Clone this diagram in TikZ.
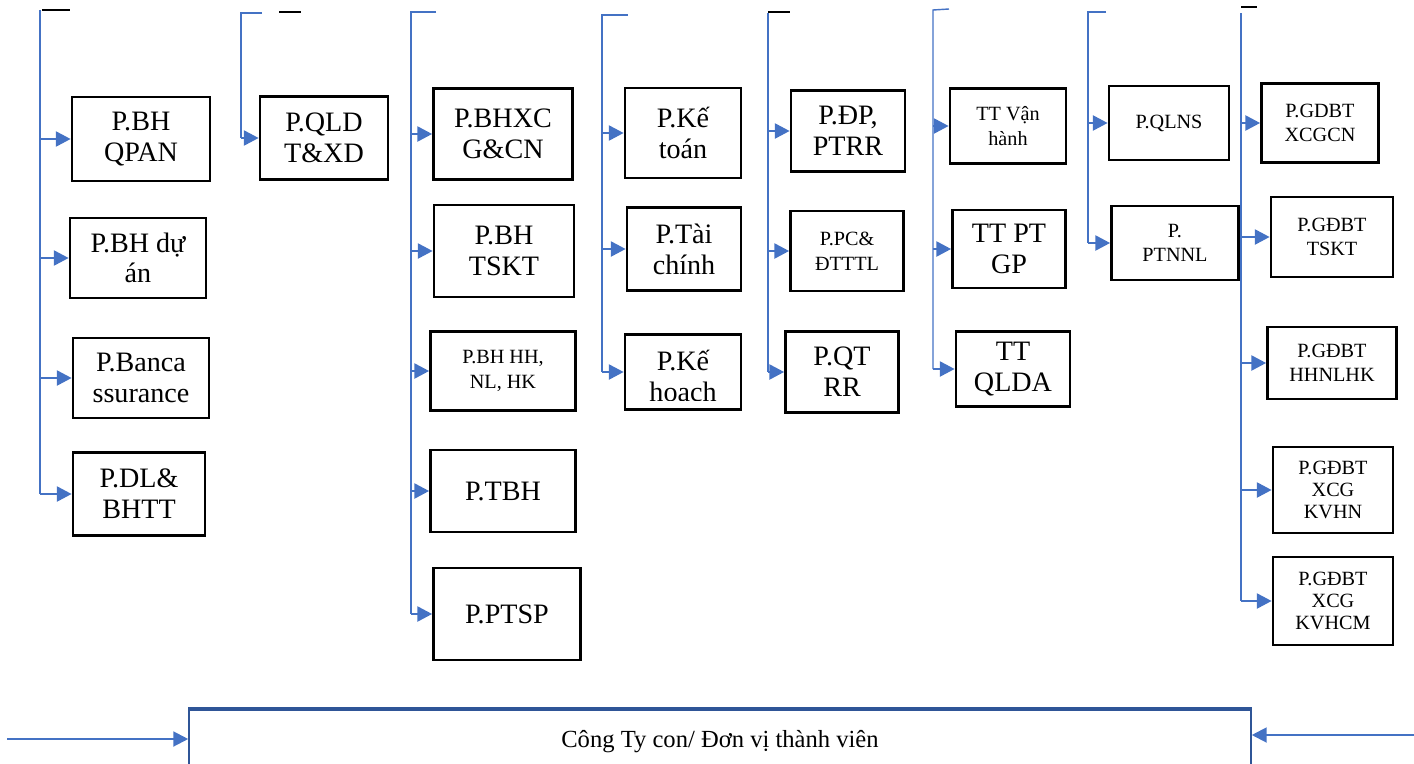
\documentclass[tikz,border=0pt]{standalone}
\usepackage{fontspec}
\setmainfont{Liberation Serif}
\usetikzlibrary{arrows.meta}
\definecolor{lineblue}{HTML}{4472C4}
\definecolor{frameblue}{HTML}{2F5597}

\begin{document}
\begin{tikzpicture}[x=0.02cm,y=-0.02cm,>={Triangle[length=8.5pt,width=8.5pt]},
	box/.style={draw,line width=1.5pt,align=center,inner sep=1pt,%
		font=\fontsize{16}{17.5}\selectfont},
	sbox/.style={box,font=\fontsize{11.5}{14}\selectfont},
	tbox/.style={box,font=\fontsize{11.5}{12.5}\selectfont},
	trunk/.style={draw=lineblue,line width=0.8pt},
	btick/.style={draw=black,line width=0.9pt},
	arr/.style={->,lineblue,line width=1.6pt}]
	\useasboundingbox (0,0) rectangle (1414,764);
	% column 1
	\node[box,minimum width=2.76cm,minimum height=1.68cm] (qpan) at (141,139) {P.BH\\QPAN};
	\node[box,minimum width=2.72cm,minimum height=1.60cm] (duan) at (138,258) {P.BH dự\\án};
	\node[box,minimum width=2.72cm,minimum height=1.60cm] (banca) at (141,378) {P.Banca\\ssurance};
	\node[box,minimum width=2.64cm,minimum height=1.66cm] (dlbhtt) at (139,494) {P.DL\&\\BHTT};
	% column 2
	\node[box,minimum width=2.56cm,minimum height=1.66cm] (qld) at (324,138) {P.QLD\\T\&XD};
	% column 3
	\node[box,minimum width=2.78cm,minimum height=1.82cm] (bhxcg) at (503,134) {P.BHXC\\G\&CN};
	\node[box,minimum width=2.80cm,minimum height=1.84cm] (bhtskt) at (504,251) {P.BH\\TSKT};
	\node[sbox,minimum width=2.90cm,minimum height=1.58cm] (bhhh) at (503,371) {P.BH HH,\\NL, HK};
	\node[box,minimum width=2.90cm,minimum height=1.64cm] (tbh) at (503,491) {P.TBH};
	\node[box,minimum width=2.94cm,minimum height=1.84cm] (ptsp) at (507,614) {P.PTSP};
	% column 4
	\node[box,minimum width=2.32cm,minimum height=1.80cm] (ketoan) at (683,133) {P.Kế\\toán};
	\node[box,minimum width=2.28cm,minimum height=1.66cm] (taichinh) at (684,249) {P.Tài\\chính};
	\node[box,minimum width=2.32cm,minimum height=1.50cm] (kehoach) at (683,372) {};
	\begin{scope}
		\clip (625,335) rectangle (741,400);
		\node[box,draw=none] at (683,378) {P.Kế\\hoạch};
	\end{scope}
	% column 5
	\node[box,minimum width=2.28cm,minimum height=1.62cm] (dp) at (848,131) {P.ĐP,\\PTRR};
	\node[sbox,minimum width=2.26cm,minimum height=1.60cm] (pc) at (847,251) {P.PC\&\\ĐTTTL};
	\node[box,minimum width=2.26cm,minimum height=1.62cm] (qtrr) at (842,372) {P.QT\\RR};
	% column 6
	\node[sbox,minimum width=2.32cm,minimum height=1.50cm] (vanhanh) at (1008,126) {TT Vận\\hành};
	\node[box,minimum width=2.26cm,minimum height=1.56cm] (ptgp) at (1009,249) {TT PT\\GP};
	\node[box,minimum width=2.28cm,minimum height=1.50cm] (qlda) at (1013,369) {TT\\QLDA};
	% column 7
	\node[sbox,minimum width=2.40cm,minimum height=1.48cm] (qlns) at (1169,123) {P.QLNS};
	\node[sbox,minimum width=2.54cm,minimum height=1.48cm] (ptnnl) at (1175,243) {P.\\PTNNL};
	% column 8
	\node[sbox,minimum width=2.34cm,minimum height=1.58cm] (xcgcn) at (1320,123) {P.GDBT\\XCGCN};
	\node[sbox,minimum width=2.44cm,minimum height=1.60cm] (gdtskt) at (1332,237) {P.GĐBT\\TSKT};
	\node[sbox,minimum width=2.58cm,minimum height=1.44cm] (hhnlhk) at (1332,363) {P.GĐBT\\HHNLHK};
	\node[tbox,minimum width=2.40cm,minimum height=1.72cm] (kvhn) at (1333,490) {P.GĐBT\\XCG\\KVHN};
	\node[tbox,minimum width=2.40cm,minimum height=1.76cm] (kvhcm) at (1333,601) {P.GĐBT\\XCG\\KVHCM};
	% bottom
	\node[draw=frameblue,line width=1pt,minimum width=21.24cm,minimum height=1.28cm,%
		font=\fontsize{14}{16}\selectfont] (cty) at (720,742) {Công Ty con/ Đơn vị thành viên};
	\draw[frameblue,line width=2pt] (cty.north west) -- (cty.north east);
	% trunks
	\coordinate (t1) at (40,10);
	\coordinate (t2) at (241,13);
	\coordinate (t3) at (411,12);
	\coordinate (t4) at (602,15);
	\coordinate (t5) at (768,13);
	\coordinate (t6) at (933,10);
	\coordinate (t7) at (1088,12);
	\coordinate (t8) at (1241,13);
	\draw[btick] (42,10) -- (70,10);
	\draw[btick] (279,12) -- (301,12);
	\draw[btick] (768,12) -- (790,12);
	\draw[btick] (1241,7) -- (1257,7);
	\draw[trunk] (t1) -- (t1 |- dlbhtt.west);
	\draw[trunk] (262,13) -- (t2) -- (t2 |- qld.west);
	\draw[trunk] (436,12) -- (t3) -- (t3 |- ptsp.west);
	\draw[trunk] (628,15) -- (t4) -- (t4 |- kehoach.west);
	\draw[trunk] (t5) -- (t5 |- qtrr.west);
	\draw[trunk] (949,9) -- (t6) -- (t6 |- qlda.west);
	\draw[trunk] (1106,12) -- (t7) -- (t7 |- ptnnl.west);
	\draw[trunk] (t8) -- (t8 |- kvhcm.west);
	% arrows
	\foreach \n in {qpan,duan,banca,dlbhtt} \draw[arr] (t1 |- \n.west) -- (\n.west);
	\draw[arr] (t2 |- qld.west) -- (qld.west);
	\foreach \n in {bhxcg,bhtskt,bhhh,tbh,ptsp} \draw[arr] (t3 |- \n.west) -- (\n.west);
	\foreach \n in {ketoan,taichinh,kehoach} \draw[arr] (t4 |- \n.west) -- (\n.west);
	\foreach \n in {dp,pc,qtrr} \draw[arr] (t5 |- \n.west) -- (\n.west);
	\foreach \n in {vanhanh,ptgp,qlda} \draw[arr] (t6 |- \n.west) -- (\n.west);
	\foreach \n in {qlns,ptnnl} \draw[arr] (t7 |- \n.west) -- (\n.west);
	\foreach \n in {xcgcn,gdtskt,hhnlhk,kvhn,kvhcm} \draw[arr] (t8 |- \n.west) -- (\n.west);
	\coordinate (lin) at (7,739);
	\coordinate (rin) at (1414,735);
	\draw[arr,line width=1.2pt] (lin) -- (lin -| cty.west);
	\draw[arr,line width=1.2pt] (rin) -- (rin -| cty.east);
\end{tikzpicture}
\end{document}
